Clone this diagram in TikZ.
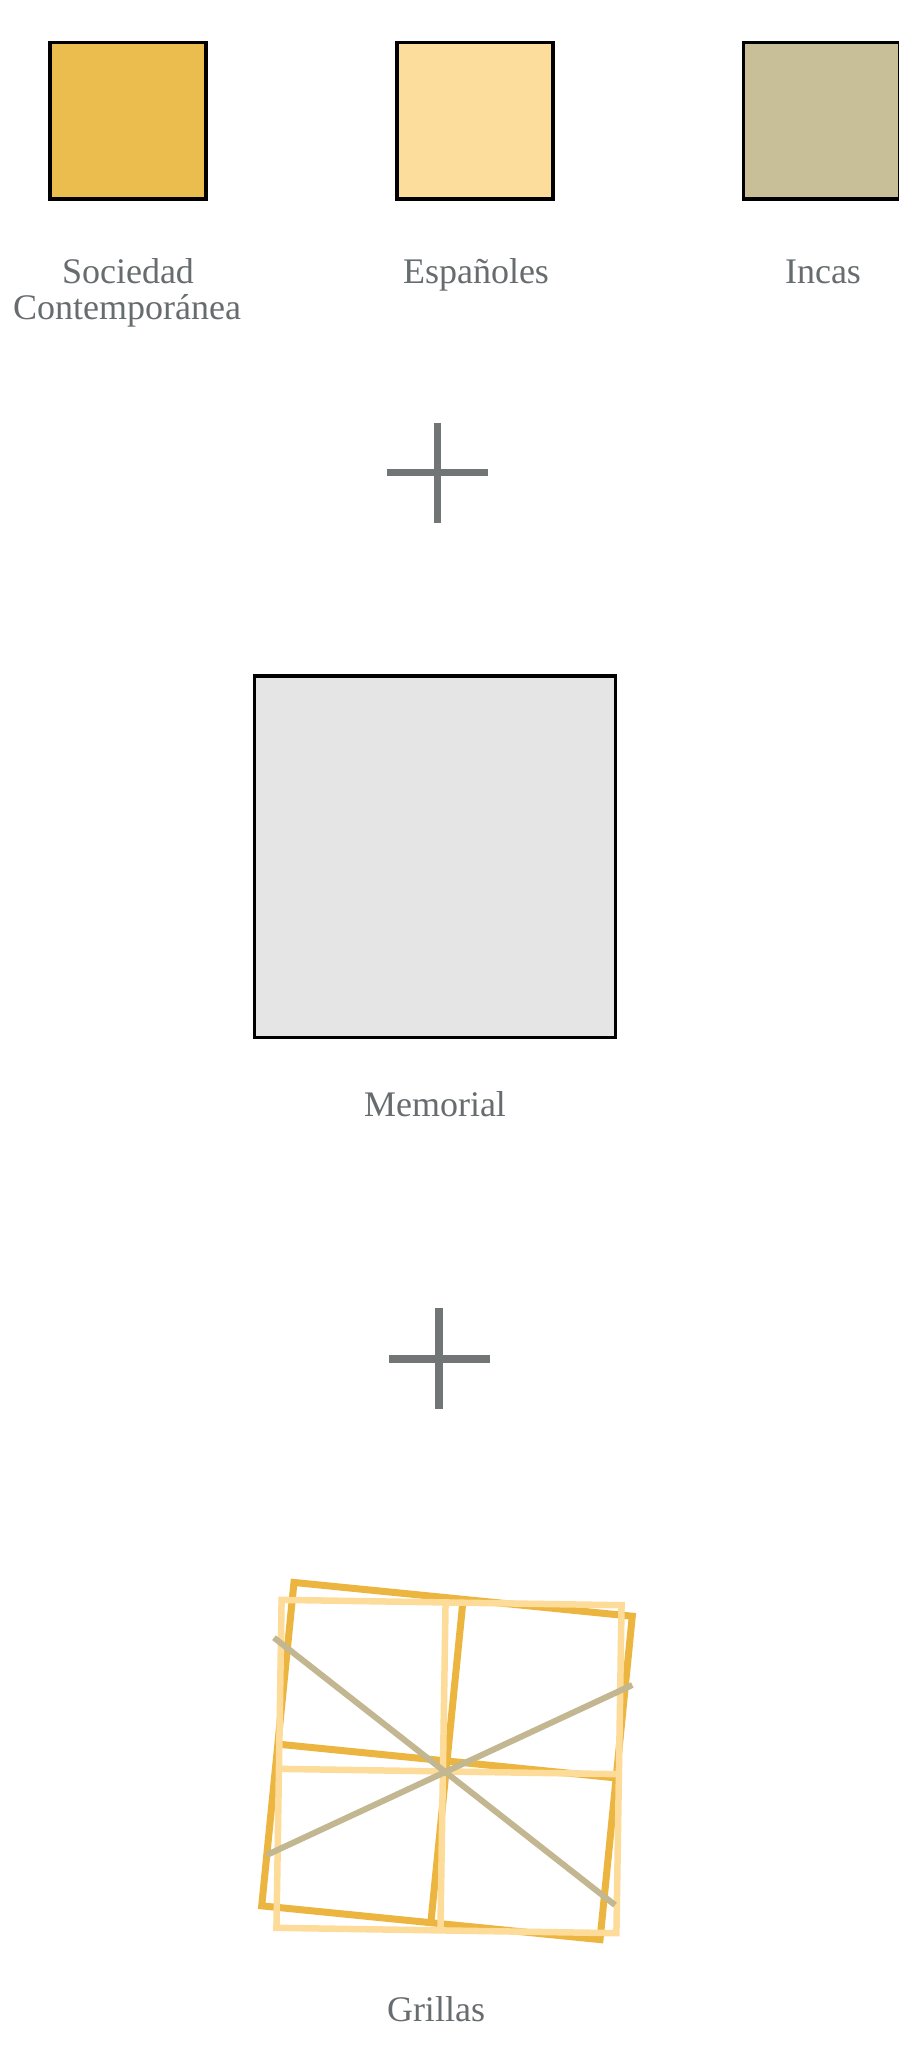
\documentclass[tikz,border=0pt]{standalone}
\usepackage{fontspec}
\setmainfont{Liberation Serif}
\definecolor{socC}{HTML}{EBBD4F}
\definecolor{espC}{HTML}{FDDD9B}
\definecolor{incC}{HTML}{C8BE98}
\definecolor{memC}{HTML}{E5E5E5}
\definecolor{txtC}{HTML}{676C6E}
\definecolor{plusC}{HTML}{717576}
\definecolor{orgC}{HTML}{EBB540}
\definecolor{litC}{HTML}{FDDB98}
\definecolor{tanC}{HTML}{C2B790}
\begin{document}
\begin{tikzpicture}[x=1pt,y=-1pt,
  swatch/.style={draw=black,line width=3.5pt},
  lbl/.style={anchor=base,text=txtC,inner sep=0pt,font=\fontsize{36}{36}\selectfont},
  plusbar/.style={draw=plusC,line width=7.5pt},
  orgline/.style={draw=orgC,line width=7pt},
  litline/.style={draw=litC,line width=6.5pt},
  diag/.style={draw=tanC,line width=6pt}]
\useasboundingbox[fill=white] (0,0) rectangle (899,2051);
\begin{scope}
\clip (0,0) rectangle (899,2051);
% swatches
\draw[swatch,fill=socC] (50,42.5) rectangle (206,199);
\draw[swatch,fill=espC] (397,42.5) rectangle (553,199);
\draw[swatch,fill=incC] (743.5,42.5) rectangle (900,199);
\end{scope}
\node[lbl] (soc1) at (128,283.3) {Sociedad};
\node[lbl] (soc2) at (127,319) {Contemporánea};
\node[lbl] (esp) at (476,283.3) {Españoles};
\node[lbl] (inc) at (823,283.3) {Incas};
% plus 1
\coordinate (p1t) at (437.7,422.7); \coordinate (p1b) at (437.7,523);
\coordinate (p1l) at (387,472.7); \coordinate (p1r) at (488,472.7);
\draw[plusbar] (p1t) -- (p1b);
\draw[plusbar] (p1l) -- (p1r);
% memorial
\draw[swatch,fill=memC] (254.3,676) rectangle (615.7,1037.3);
\node[lbl] (mem) at (435,1116.5) {Memorial};
% plus 2
\coordinate (p2t) at (439,1308); \coordinate (p2b) at (439,1409);
\coordinate (p2l) at (389,1359); \coordinate (p2r) at (490,1359);
\draw[plusbar] (p2t) -- (p2b);
\draw[plusbar] (p2l) -- (p2r);
% grids
\begin{scope}[shift={(447,1761)},rotate=-5.7]
  \draw[orgline] (-170,-162.5) rectangle (170,162.5);
  \draw[orgline] (0,-162.5) -- (0,162.5);
  \draw[orgline] (-170,0) -- (170,0);
\end{scope}
\begin{scope}[shift={(449,1766.5)},rotate=-0.9]
  \draw[litline] (-170,-164) rectangle (170,164);
  \draw[litline] (-6,-164) -- (-6,164);
  \draw[litline] (-170,5) -- (170,5);
\end{scope}
\coordinate (d1a) at (274,1637.7); \coordinate (d1b) at (615,1905);
\coordinate (d2a) at (266.7,1855); \coordinate (d2b) at (632.3,1685);
\draw[diag] (d1a) -- (d1b);
\draw[diag] (d2a) -- (d2b);
\node[lbl] (gri) at (436,2021.5) {Grillas};
\end{tikzpicture}
\end{document}
